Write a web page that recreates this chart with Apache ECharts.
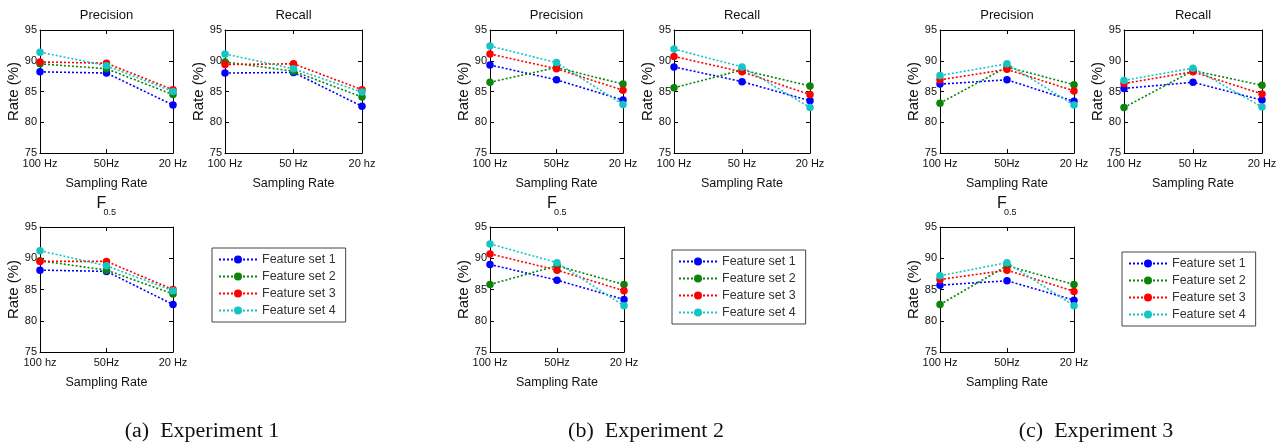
<!DOCTYPE html>
<html>
<head>
<meta charset="utf-8">
<script src="https://cdn.jsdelivr.net/npm/echarts@6/dist/echarts.min.js"></script>
<style>
html,body{margin:0;padding:0;background:#fff;}
#c{width:1281px;height:445px;}
</style>
</head>
<body>
<div id="c"></div>
<script>
// ---- data (rows: Feature set 1..4; columns follow the category order) ----
const seriesNames = ['Feature set 1','Feature set 2','Feature set 3','Feature set 4'];
const yTicks = [75, 80, 85, 90, 95];

const exp1PrecisionCats = ['100 Hz','50Hz','20 Hz'];
const exp1RecallCats    = ['100 Hz','50 Hz','20 hz'];
const exp1F05Cats       = ['100 hz','50Hz','20 Hz'];
const exp2PrecisionCats = ['100 Hz','50Hz','20 Hz'];
const exp2RecallCats    = ['100 Hz','50 Hz','20 Hz'];
const exp2F05Cats       = ['100 Hz','50Hz','20 Hz'];
const exp3PrecisionCats = ['100 Hz','50Hz','20 Hz'];
const exp3RecallCats    = ['100 Hz','50 Hz','20 Hz'];
const exp3F05Cats       = ['100 Hz','50Hz','20 Hz'];

const exp1Precision = [[88.2,88.0,82.8],[89.5,88.7,84.5],[89.8,89.6,85.3],[91.4,89.2,85.0]];
const exp1Recall    = [[88.0,88.1,82.6],[89.8,88.3,84.1],[89.4,89.5,85.3],[91.1,88.7,84.9]];
const exp1F05       = [[88.1,87.9,82.6],[89.6,88.1,84.3],[89.5,89.5,85.0],[91.2,88.8,84.8]];
const exp2Precision = [[89.3,86.9,83.6],[86.5,88.9,86.2],[91.1,88.7,85.2],[92.4,89.7,82.9]];
const exp2Recall    = [[89.0,86.6,83.5],[85.6,88.5,85.9],[90.7,88.2,84.5],[91.9,89.0,82.4]];
const exp2F05       = [[89.0,86.5,83.4],[85.8,88.8,85.8],[90.7,88.1,84.8],[92.3,89.3,82.4]];
const exp3Precision = [[86.2,86.9,83.4],[83.1,89.0,86.1],[86.9,88.6,85.1],[87.6,89.5,82.8]];
const exp3Recall    = [[85.5,86.5,83.6],[82.4,88.4,86.0],[86.3,88.2,84.6],[86.8,88.8,82.5]];
const exp3F05       = [[85.7,86.4,83.3],[82.6,88.8,85.8],[86.6,88.1,84.7],[87.2,89.3,82.4]];

const captions = ['(a)  Experiment 1','(b)  Experiment 2','(c)  Experiment 3'];

// ---- layout ----
const colors = ['#0000ff','#0a850a','#ff0000','#17c4c4'];
const plots = [
  {cats:exp1PrecisionCats, vals:exp1Precision, title:'Precision', left:40,  top:30,  w:133, h:123},
  {cats:exp1RecallCats,    vals:exp1Recall,    title:'Recall',    left:225, top:30,  w:137, h:123},
  {cats:exp1F05Cats,       vals:exp1F05,       title:'F',         left:40,  top:227, w:133, h:125},
  {cats:exp2PrecisionCats, vals:exp2Precision, title:'Precision', left:490, top:30,  w:133, h:123},
  {cats:exp2RecallCats,    vals:exp2Recall,    title:'Recall',    left:674, top:30,  w:136, h:123},
  {cats:exp2F05Cats,       vals:exp2F05,       title:'F',         left:490, top:227, w:134, h:125},
  {cats:exp3PrecisionCats, vals:exp3Precision, title:'Precision', left:940, top:30,  w:134, h:123},
  {cats:exp3RecallCats,    vals:exp3Recall,    title:'Recall',    left:1124,top:30,  w:138, h:123},
  {cats:exp3F05Cats,       vals:exp3F05,       title:'F',         left:940, top:227, w:134, h:125}
];
const legendPos = [{left:212, top:248},{left:672, top:250},{left:1122, top:252}];
const captionX = [202, 646, 1096];

const FONT = 'Arial, "Liberation Sans", Helvetica, sans-serif';
const grid = [], xAxis = [], yAxis = [], series = [], graphic = [];

plots.forEach((p, i) => {
  grid.push({left:p.left, top:p.top, width:p.w, height:p.h, containLabel:false});
  const lineStyle = {color:'#000', width:1};
  xAxis.push({
    gridIndex:i, type:'category', data:p.cats, boundaryGap:false,
    axisLine:{lineStyle}, axisTick:{inside:true, length:4, lineStyle},
    axisLabel:{fontFamily:FONT, fontSize:11, color:'#111', margin:5, interval:0},
    splitLine:{show:false},
    name:'Sampling Rate', nameLocation:'middle', nameGap:24,
    nameTextStyle:{fontFamily:FONT, fontSize:12.5, color:'#111'}
  });
  xAxis.push({
    gridIndex:i, type:'category', data:p.cats, boundaryGap:false, position:'top',
    axisLine:{lineStyle}, axisTick:{inside:true, length:4, lineStyle},
    axisLabel:{show:false}, splitLine:{show:false}
  });
  yAxis.push({
    gridIndex:i, type:'value', min:yTicks[0], max:yTicks[yTicks.length-1], interval:5,
    axisLine:{show:true, lineStyle}, axisTick:{show:true, inside:true, length:4, lineStyle},
    axisLabel:{fontFamily:FONT, fontSize:11, color:'#111', margin:3},
    splitLine:{show:false},
    name:'Rate (%)', nameLocation:'middle', nameGap:11, nameRotate:90,
    nameTextStyle:{fontFamily:FONT, fontSize:15, color:'#111'}
  });
  yAxis.push({
    gridIndex:i, type:'value', min:yTicks[0], max:yTicks[yTicks.length-1], interval:5, position:'right',
    axisLine:{show:true, lineStyle}, axisTick:{show:true, inside:true, length:4, lineStyle},
    axisLabel:{show:false}, splitLine:{show:false}
  });
  p.vals.forEach((vals, k) => {
    series.push({
      name:seriesNames[k], type:'line', xAxisIndex:2*i, yAxisIndex:2*i,
      data:vals, symbol:'circle', symbolSize:7.5, showSymbol:true,
      lineStyle:{color:colors[k], width:1.6, type:[2,2]},
      itemStyle:{color:colors[k]},
      emphasis:{disabled:true}, animation:false
    });
  });
  const cx = p.left + p.w/2;
  if (p.title === 'F') {
    graphic.push({type:'text', left:cx-10, top:p.top-31,
      style:{text:'F', font:'16px ' + FONT, fill:'#111'}});
    graphic.push({type:'text', left:cx-3, top:p.top-19,
      style:{text:'0.5', font:'9px ' + FONT, fill:'#111'}});
  } else {
    graphic.push({type:'text', x:cx, y:p.top-15,
      style:{text:p.title, font:'13px ' + FONT, fill:'#111', textAlign:'center', textVerticalAlign:'middle'}});
  }
});

const legend = legendPos.map(lp => ({
  data:seriesNames, orient:'vertical', left:lp.left, top:lp.top,
  itemWidth:38, itemHeight:10, itemGap:4,
  padding:[5,10,5,6], borderColor:'#444', borderWidth:1, backgroundColor:'#fff',
  textStyle:{fontFamily:FONT, fontSize:12.5, color:'#333'},
  selectedMode:false
}));

captions.forEach((c, i) => {
  graphic.push({type:'text', x:captionX[i], y:432, scaleX:1.1,
    style:{text:c, font:'20px "Liberation Serif", "Times New Roman", serif', fill:'#111',
      textAlign:'center', textVerticalAlign:'middle'}});
});

const chart = echarts.init(document.getElementById('c'), null, {renderer:'canvas'});
chart.setOption({
  animation:false, backgroundColor:'#fff',
  grid, xAxis, yAxis, series, legend, graphic
});
</script>
</body>
</html>
